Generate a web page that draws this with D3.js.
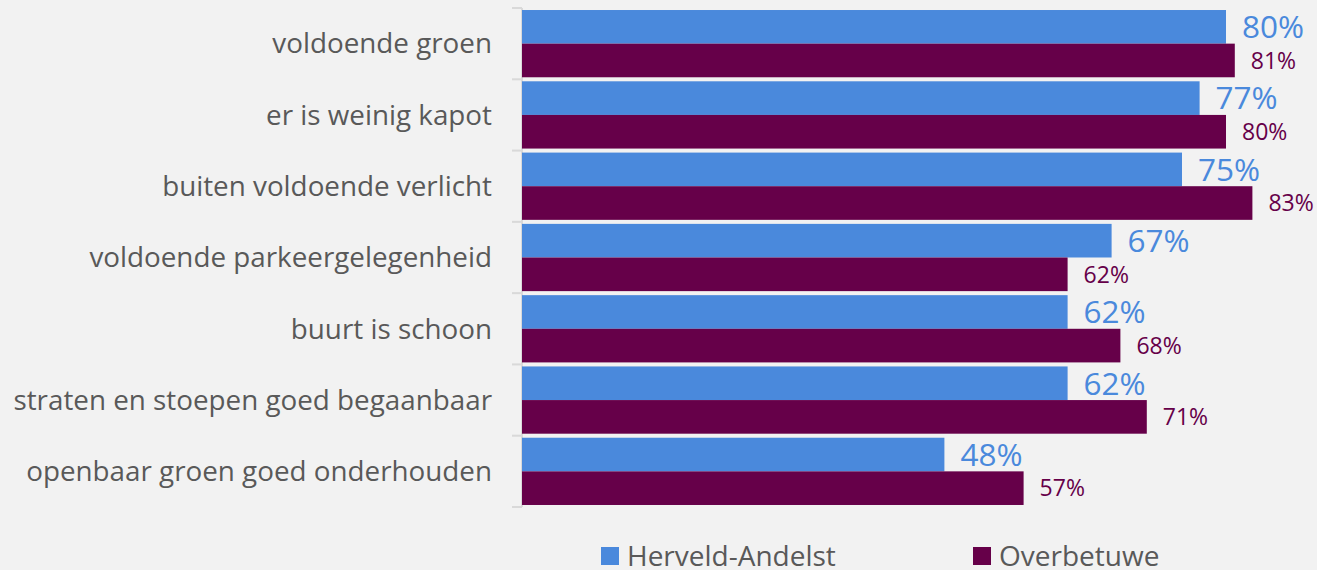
<!DOCTYPE html>
<html>
<head>
<meta charset="utf-8">
<script src="https://cdn.jsdelivr.net/npm/d3@7"></script>
<style>
  html, body { margin: 0; padding: 0; background: #f2f2f2; }
  svg { display: block; font-family: "Open Sans", sans-serif; }
</style>
</head>
<body>
<div id="chart"></div>
<script>
// Data
const categories = [
  'voldoende groen',
  'er is weinig kapot',
  'buiten voldoende verlicht',
  'voldoende parkeergelegenheid',
  'buurt is schoon',
  'straten en stoepen goed begaanbaar',
  'openbaar groen goed onderhouden'
];
const seriesNames = ['Herveld-Andelst', 'Overbetuwe'];
const herveldValues = [80, 77, 75, 67, 62, 62, 48];
const overbetuweValues = [81, 80, 83, 62, 68, 71, 57];

const colors = ['#4a89dc', '#660049'];

const width = 1317, height = 570;
const margin = {top: 8, left: 522, bottom: 64};

const rows = categories.map((c, i) => ({
  cat: c,
  values: [herveldValues[i], overbetuweValues[i]]
}));

const svg = d3.select('#chart').append('svg')
  .attr('width', width)
  .attr('height', height);

// Scales
const x = d3.scaleLinear().domain([0, 80]).range([margin.left, margin.left + 704]);
const y = d3.scaleBand().domain(categories)
  .range([margin.top, height - margin.bottom + 1])
  .paddingInner(0).paddingOuter(0);
const inner = d3.scaleBand().domain([0, 1])
  .range([0, y.bandwidth()]).paddingOuter(0.06).paddingInner(0);

// Axis line + ticks at band boundaries
const axisG = svg.append('g');
axisG.append('line')
  .attr('x1', margin.left).attr('x2', margin.left)
  .attr('y1', y.range()[0]).attr('y2', y.range()[1])
  .attr('stroke', '#d9d9d9').attr('stroke-width', 2);
const bounds = categories.map(c => y(c)).concat([y.range()[1]]);
axisG.selectAll('.tick').data(bounds).enter().append('line')
  .attr('x1', margin.left - 10).attr('x2', margin.left)
  .attr('y1', d => d).attr('y2', d => d)
  .attr('stroke', '#d9d9d9').attr('stroke-width', 2);

// Category labels
svg.append('g').selectAll('text').data(categories).enter().append('text')
  .attr('x', margin.left - 30)
  .attr('y', d => y(d) + y.bandwidth() / 2)
  .attr('dy', '0.35em')
  .attr('text-anchor', 'end')
  .attr('fill', '#595959')
  .style('font-size', '27.8px')
  .text(d => d);

// Bars
const groups = svg.append('g').selectAll('g').data(rows).enter().append('g')
  .attr('transform', d => `translate(0,${y(d.cat)})`);

groups.selectAll('rect').data(d => d.values).enter().append('rect')
  .attr('x', x(0))
  .attr('y', (d, i) => inner(i))
  .attr('width', d => x(d) - x(0))
  .attr('height', inner.bandwidth())
  .attr('fill', (d, i) => colors[i]);

// Value labels
groups.selectAll('text').data(d => d.values).enter().append('text')
  .attr('x', d => x(d) + 16)
  .attr('y', (d, i) => inner(i) + inner.bandwidth() / 2)
  .attr('dy', '0.36em')
  .attr('fill', (d, i) => colors[i])
  .style('font-size', (d, i) => i === 0 ? '31.5px' : '23px')
  .text(d => d + '%');

// Legend
const legendX = [601, 973];
const legend = svg.append('g').selectAll('g').data(seriesNames).enter().append('g')
  .attr('transform', (d, i) => `translate(${legendX[i]},547)`);
legend.append('rect')
  .attr('width', 18).attr('height', 18)
  .attr('fill', (d, i) => colors[i]);
legend.append('text')
  .attr('x', 26).attr('y', 19)
  .attr('fill', '#595959')
  .style('font-size', '28px')
  .text(d => d);
</script>
</body>
</html>
